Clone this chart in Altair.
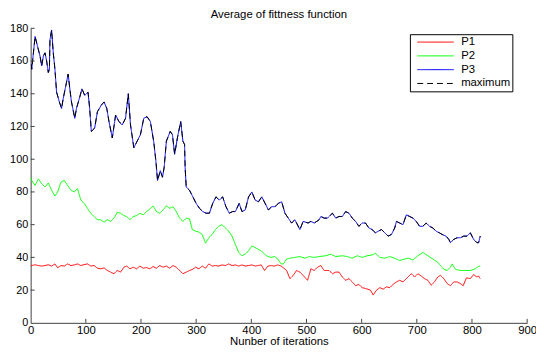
import altair as alt
import pandas as pd

FONT = "Liberation Sans"
AXIS_COLOR = "#404040"

title_text = "Average of fittness function"
x_title = "Nunber of iterations"
x_ticks = [0, 100, 200, 300, 400, 500, 600, 700, 800, 900]
y_ticks = [0, 20, 40, 60, 80, 100, 120, 140, 160, 180]
series_names = ["P1", "P2", "P3", "maximum"]
series_colors = ["#ff0000", "#00ff00", "#0000ff", "#000000"]
series_dash = [[1, 0], [1, 0], [1, 0], [6, 4]]

# shared sampling grid for P1 / P2 (first part)
grid_a = [0, 2, 8, 14, 20, 26, 32, 38, 44, 49, 55,
          61, 67, 73, 79, 85, 91, 97, 103, 109, 115,
          121, 127, 133, 139, 145, 151, 157, 163, 169, 174,
          180, 186, 192, 198, 204, 210, 216, 222, 228, 234,
          240, 246, 252, 258, 264, 270, 276, 282, 288, 293,
          299, 305, 311, 317, 323, 329, 335, 341, 347, 353,
          359, 365, 371, 377, 383, 389, 395, 401, 407, 412,
          418, 424, 430, 436, 442, 448, 454]

p1_a = [35, 35, 35.5, 35, 34.7, 35, 35.5, 34.7, 36, 33.6, 35,
        34.7, 36, 35, 35.4, 36, 35, 35.6, 36, 34.7, 35,
        33.4, 33, 33.6, 32, 31, 30, 32, 31, 34, 34.7,
        33, 34, 33, 34.7, 33.4, 33.8, 33, 34.4, 33.4, 35,
        34, 34.7, 33.4, 35, 34, 32, 30, 31, 32, 32.6,
        34, 33, 34.7, 33.4, 36, 34.7, 35, 34.7, 35.4, 35,
        36, 35, 35.4, 34.7, 35.4, 34.7, 35, 35.4, 34.7, 35,
        35.4, 32, 34.7, 35, 34.7, 35.4, 34.7]

p2_a = [89, 87, 84, 88, 85, 83, 85.5, 81, 77.5, 80, 86,
        87, 84, 81, 80, 82, 75, 73, 70, 67, 65,
        63, 63, 61.5, 63, 62, 64, 67.5, 67, 65.5, 65,
        63, 65, 65.5, 67, 66, 68, 69.5, 71.5, 68, 67,
        69, 71.5, 70, 71, 68, 64, 62, 64, 63.5, 57,
        56, 55.5, 54, 48.7, 52, 54, 57, 59, 60, 58,
        56, 53, 48, 43, 41, 42, 44, 47, 46, 45,
        44, 42, 40.5, 40, 40.5, 39, 36]

p1_b_iter = [464, 470, 476, 482, 488, 494, 502, 508, 514, 520,
             526, 532, 541, 547, 553, 559, 565, 571, 577, 583,
             589, 595, 601, 607, 616, 621, 627, 633, 639, 645,
             651, 657, 663, 669, 675, 684, 690, 696, 702, 708,
             714, 720, 726, 732, 738, 743, 749, 755, 761, 767,
             773, 779, 784, 790, 797, 803, 809, 812, 815]
p1_b = [32, 27, 29, 32, 31, 29, 26, 33, 32, 34,
        35, 32, 32, 30, 31, 31, 28, 26, 27, 25,
        22.7, 23.5, 21.5, 21, 20, 17, 20, 21.5, 20.6, 22,
        21.5, 23.5, 25, 26, 25, 28, 30, 28, 30, 28.6,
        27, 26, 23, 25, 28, 29, 27, 24, 22.7, 25,
        25, 24, 22.7, 27.5, 27, 29.5, 28, 28.6, 27]

p2_b_iter = [458, 464, 470, 479, 488, 497, 505, 514, 523, 535,
             544, 553, 565, 574, 583, 592, 601, 610, 619, 625,
             633, 642, 651, 660, 669, 678, 684, 693, 702, 711,
             720, 729, 738, 743, 749, 755, 761, 764, 770, 779,
             788, 797, 806, 812, 815]
p2_b = [36, 39, 39.5, 40, 40.5, 39.5, 40.5, 40, 40.5, 41,
        42, 40.5, 41, 40.5, 39.5, 41, 40, 41, 41.5, 42.5,
        40, 39.5, 40.5, 39.5, 38, 39, 39.5, 38.5, 41, 43,
        41, 39, 37, 35, 32.7, 32, 34, 36, 32.7, 32,
        32, 32, 33, 34.5, 34.7]

p3_iter = [1, 2, 5, 8, 11, 17, 20, 23, 26, 29,
           32, 34, 35, 38, 41, 44, 47, 52, 56, 59,
           65, 68, 71, 74, 80, 83, 89, 93, 98, 104,
           107, 110, 116, 121, 128, 133, 138, 142, 148, 154,
           160, 166, 172, 177, 181, 187, 193, 199, 205, 211,
           217, 223, 227, 230, 235, 239, 242, 246, 253, 257,
           261, 266, 272, 276, 279, 280, 282, 288, 294, 300,
           306, 312, 318, 324, 330, 336, 342, 348, 354, 360,
           366, 371, 378, 383, 389, 395, 401, 407, 413, 419,
           425, 431, 437, 443, 449, 455, 461, 467, 473, 479,
           482, 488, 494, 503, 508, 514, 523, 526, 532, 538,
           547, 553, 559, 565, 571, 577, 583, 589, 595, 601,
           607, 613, 619, 625, 630, 636, 642, 648, 654, 660,
           663, 669, 675, 681, 687, 693, 699, 705, 711, 717,
           723, 729, 735, 741, 746, 753, 758, 761, 767, 773,
           779, 785, 791, 797, 803, 809, 812, 815]
p3_val = [158, 155, 165, 175, 171, 163, 157, 163, 165, 160,
          153, 155, 173, 179, 165, 155, 141, 135, 131, 137,
          147, 152, 143, 135, 125, 131, 138, 143, 139, 141,
          131, 117, 119, 129, 133, 135, 131, 123, 113, 127,
          123, 121, 125, 140, 121, 107, 111, 115, 125, 126,
          123, 111, 99, 87, 93, 89, 95, 111, 117, 115,
          103, 113, 123, 111, 109, 95, 83, 81, 77, 73,
          70, 68, 67, 67, 73, 77, 75, 77, 71, 67,
          68, 68, 73, 68, 69, 77, 80, 75, 74, 77,
          73, 69, 71, 71, 73, 74, 67, 64, 61, 63,
          61, 57, 62, 61, 62, 61, 63, 65, 64, 64,
          67, 64, 65, 65, 68, 67, 64, 62, 59, 61,
          61, 58, 57, 55, 56, 57, 55, 53, 54, 58,
          62, 61, 60, 66, 65, 64, 62, 59, 59, 61,
          59, 58, 56, 55, 54, 53, 51, 49, 51, 52,
          52, 53, 53, 55, 51, 49, 49, 53]
# the "maximum" curve traces P3
max_iter = p3_iter
max_val = p3_val

rows = []
def add(name, its, vals):
    for i, v in zip(its, vals):
        rows.append({"iteration": i, "value": v, "series": name})

add("P1", grid_a + p1_b_iter, p1_a + p1_b)
add("P2", grid_a + p2_b_iter, p2_a + p2_b)
add("P3", p3_iter, p3_val)
add("maximum", max_iter, max_val)
df = pd.DataFrame(rows)

W, H = 504, 299
x_scale = alt.Scale(domain=[0, 900], nice=False, zero=False)
y_scale = alt.Scale(domain=[0, 180], nice=False)
x_axis = alt.Axis(values=x_ticks, title=x_title, labelPadding=2, titlePadding=0)
y_axis = alt.Axis(values=y_ticks, title=None, labelPadding=3, labelFontSize=11)

legend = alt.Legend(
    title=None, orient="none", legendX=385, legendY=6,
    symbolType="stroke", symbolSize=1369, symbolStrokeWidth=1,
    clipHeight=12, rowPadding=2, padding=2, symbolOffset=5, labelOffset=7,
    labelFont=FONT, labelFontSize=11.5, labelColor="#000",
    strokeColor="#000", fillColor="#fff",
    labelExpr="datum.label + '\u00a0\u00a0\u00a0'",
)

lines = alt.Chart(df).mark_line(strokeWidth=1, clip=True).encode(
    x=alt.X("iteration:Q", scale=x_scale, axis=x_axis),
    y=alt.Y("value:Q", scale=y_scale, axis=y_axis),
    color=alt.Color("series:N", scale=alt.Scale(domain=series_names, range=series_colors), legend=legend),
    strokeDash=alt.StrokeDash("series:N", scale=alt.Scale(domain=series_names, range=series_dash), legend=legend),
)

xt = alt.Chart(pd.DataFrame({"t": x_ticks[1:]})).mark_rule(color=AXIS_COLOR, strokeWidth=1).encode(
    x=alt.X("t:Q", scale=x_scale, axis=x_axis),
    y=alt.value(H), y2=alt.value(H - 4),
)
yt = alt.Chart(pd.DataFrame({"t": y_ticks[1:]})).mark_rule(color=AXIS_COLOR, strokeWidth=1).encode(
    y=alt.Y("t:Q", scale=y_scale, axis=y_axis),
    x=alt.value(0), x2=alt.value(4),
)

chart = alt.layer(lines, xt, yt).properties(
    width=W, height=H,
    title=title_text,
    padding={"left": 23, "top": 18, "right": 9, "bottom": 27},
    autosize=alt.AutoSizeParams(type="none"),
).configure_view(stroke=None).configure_axis(
    domainColor=AXIS_COLOR, domainWidth=1, ticks=False, tickSize=0, grid=False,
    labelFont=FONT, labelFontSize=11.5, labelColor="#000", labelFlush=False, labelOverlap=False,
    titleFont=FONT, titleFontSize=11.5, titleFontWeight="normal", titleColor="#000",
).configure_title(
    font=FONT, fontSize=11.5, fontWeight="normal", color="#000", anchor="middle", offset=2,
)

chart.save("out.html", embed_options={"renderer": "svg", "actions": False})
